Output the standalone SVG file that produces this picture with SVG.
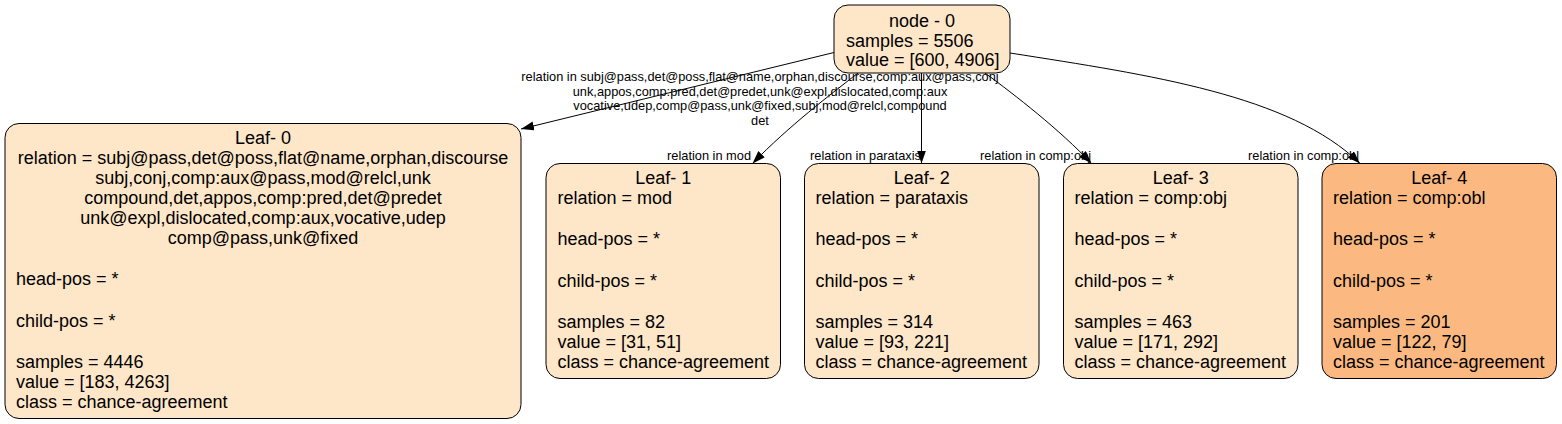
<svg xmlns="http://www.w3.org/2000/svg" width="1562" height="424" viewBox="0 0 1562 424">
<style>
.box{fill:#fee6c8;stroke:#000;stroke-width:1}
.dark{fill:#fbb981}
.t{font-family:"Liberation Sans",Arial,Helvetica,sans-serif;font-size:18px;fill:#000}
.c{text-anchor:middle}
.e{font-family:"Liberation Sans",Arial,Helvetica,sans-serif;font-size:12.8px;fill:#000}
.end{text-anchor:end}
.edge{fill:none;stroke:#000;stroke-width:1}
</style>
<defs>
<marker id="arr" markerUnits="userSpaceOnUse" markerWidth="14" markerHeight="10" refX="13" refY="4.5" orient="auto">
<path d="M0,0 L13,4.5 L0,9 z" fill="#000"/>
</marker>
</defs>
<rect width="1562" height="424" fill="#fff"/>
<g id="connectors">
<path class="edge" d="M834,52.5 L521,129" marker-end="url(#arr)"/>
<path class="edge" d="M858,73 C830,95 790,125 752.5,163.5" marker-end="url(#arr)"/>
<path class="edge" d="M921.5,73 L921.5,163.5" marker-end="url(#arr)"/>
<path class="edge" d="M985,73 C1015,95 1060,130 1091.5,163.5" marker-end="url(#arr)"/>
<path class="edge" d="M1010,53 C1150,75 1290,95 1360,163.5" marker-end="url(#arr)"/>
<g class="e">
<text x="760" y="81" text-anchor="middle">relation in subj@pass,det@poss,flat@name,orphan,discourse,comp:aux@pass,conj</text>
<text x="760" y="95.5" text-anchor="middle">unk,appos,comp:pred,det@predet,unk@expl,dislocated,comp:aux</text>
<text x="760" y="110" text-anchor="middle">vocative,udep,comp@pass,unk@fixed,subj,mod@relcl,compound</text>
<text x="760" y="124.5" text-anchor="middle">det</text>
<text x="751" y="160" class="end">relation in mod</text>
<text x="921" y="160" class="end">relation in parataxis</text>
<text x="1091" y="160" class="end">relation in comp:obj</text>
<text x="1359" y="160" class="end">relation in comp:obl</text>
</g>
</g>
<g id="node0">
<rect class="box" x="834" y="5" width="176" height="68" rx="14"/>
<text class="t c" x="922" y="27">node - 0</text>
<text class="t" x="846" y="46.5">samples = 5506</text>
<text class="t" x="846" y="66">value = [600, 4906]</text>
</g>
<g id="leaf0">
<rect class="box" x="5" y="123.5" width="516" height="295" rx="14"/>
<text class="t c" x="263" y="143.7">Leaf- 0</text>
<text class="t c" x="263" y="163.7">relation = subj@pass,det@poss,flat@name,orphan,discourse</text>
<text class="t c" x="263" y="183.7">subj,conj,comp:aux@pass,mod@relcl,unk</text>
<text class="t c" x="263" y="203.7">compound,det,appos,comp:pred,det@predet</text>
<text class="t c" x="263" y="223.7">unk@expl,dislocated,comp:aux,vocative,udep</text>
<text class="t c" x="263" y="243.7">comp@pass,unk@fixed</text>
<text class="t" x="16" y="285.3">head-pos = *</text>
<text class="t" x="16" y="326.7">child-pos = *</text>
<text class="t" x="16" y="367.7">samples = 4446</text>
<text class="t" x="16" y="387.7">value = [183, 4263]</text>
<text class="t" x="16" y="407.7">class = chance-agreement</text>
</g>
<g id="leaf1">
<rect class="box" x="546" y="163.5" width="234.5" height="215" rx="14"/>
<text class="t c" x="663.2" y="183.7">Leaf- 1</text>
<text class="t" x="557.5" y="203.7">relation = mod</text>
<text class="t" x="557.5" y="245.3">head-pos = *</text>
<text class="t" x="557.5" y="286.7">child-pos = *</text>
<text class="t" x="557.5" y="327.7">samples = 82</text>
<text class="t" x="557.5" y="347.7">value = [31, 51]</text>
<text class="t" x="557.5" y="367.7">class = chance-agreement</text>
</g>
<g id="leaf2">
<rect class="box" x="804.5" y="163.5" width="234.5" height="215" rx="14"/>
<text class="t c" x="921.7" y="183.7">Leaf- 2</text>
<text class="t" x="815.5" y="203.7">relation = parataxis</text>
<text class="t" x="815.5" y="245.3">head-pos = *</text>
<text class="t" x="815.5" y="286.7">child-pos = *</text>
<text class="t" x="815.5" y="327.7">samples = 314</text>
<text class="t" x="815.5" y="347.7">value = [93, 221]</text>
<text class="t" x="815.5" y="367.7">class = chance-agreement</text>
</g>
<g id="leaf3">
<rect class="box" x="1063.5" y="163.5" width="234.5" height="215" rx="14"/>
<text class="t c" x="1180.7" y="183.7">Leaf- 3</text>
<text class="t" x="1074.5" y="203.7">relation = comp:obj</text>
<text class="t" x="1074.5" y="245.3">head-pos = *</text>
<text class="t" x="1074.5" y="286.7">child-pos = *</text>
<text class="t" x="1074.5" y="327.7">samples = 463</text>
<text class="t" x="1074.5" y="347.7">value = [171, 292]</text>
<text class="t" x="1074.5" y="367.7">class = chance-agreement</text>
</g>
<g id="leaf4">
<rect class="box dark" x="1322" y="163.5" width="234.5" height="215" rx="14"/>
<text class="t c" x="1439.2" y="183.7">Leaf- 4</text>
<text class="t" x="1333" y="203.7">relation = comp:obl</text>
<text class="t" x="1333" y="245.3">head-pos = *</text>
<text class="t" x="1333" y="286.7">child-pos = *</text>
<text class="t" x="1333" y="327.7">samples = 201</text>
<text class="t" x="1333" y="347.7">value = [122, 79]</text>
<text class="t" x="1333" y="367.7">class = chance-agreement</text>
</g>
</svg>
